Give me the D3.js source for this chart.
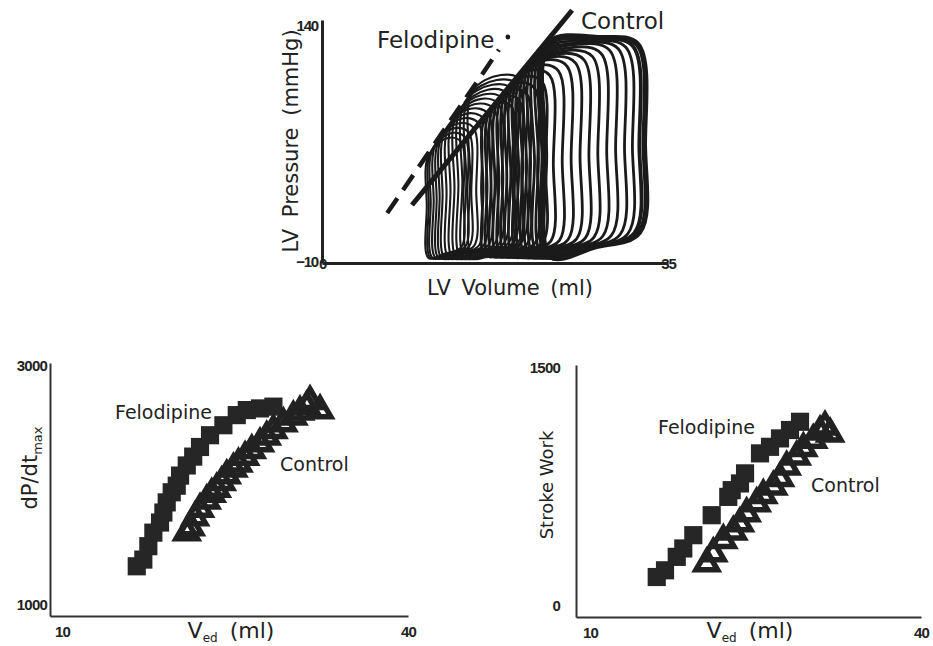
<!DOCTYPE html>
<html>
<head>
<meta charset="utf-8">
<script src="https://cdn.jsdelivr.net/npm/d3@7"></script>
<style>
  html, body { margin: 0; padding: 0; background: #fff; }
  svg { display: block; }
  .lbl { font-family: "DejaVu Sans", sans-serif; fill: #222; }
  .tick-lbl { font-family: "Liberation Sans", Arial, sans-serif; font-weight: bold; fill: #222; }
</style>
</head>
<body>
<svg id="chart" width="933" height="646"></svg>
<script>
// ---------- Pressure–volume loops (top panel) ----------
const pvVolumeTicks = [0, 35];
const pvPressureTicks = [-10, 140];

// Control loops during preload reduction: end-systolic / end-diastolic volume (ml),
// end-systolic pressure, peak pressure, end-diastolic pressure (mmHg)
const controlESV  = [22.6, 22.3, 21.9, 21.5, 21.1, 20.7, 20.3, 19.9, 19.5, 19.1, 18.7, 18.3, 17.9, 17.5, 17.1, 16.7, 16.3];
const controlEDV  = [32.6, 32.1, 31.4, 30.6, 29.7, 28.8, 27.9, 27.0, 26.1, 25.2, 24.3, 23.4, 22.6, 21.8, 21.0, 20.2, 19.4];
const controlPes  = [126, 124, 121, 118, 115, 112, 109, 106, 103, 100, 97, 94, 91, 88, 85, 82, 79];
const controlPeak = [129, 128, 127, 126, 125, 123, 121, 119, 117, 115, 112, 109, 105, 101, 97, 93, 89];
const controlEDP  = [9, 8.5, 8, 7.5, 7, 6.5, 6, 5.5, 5, 4.5, 4, 3.5, 3, 2.5, 2, 1.5, 1];

// Felodipine loops
const feloESV  = [15.0, 14.6, 14.2, 13.8, 13.4, 13.0, 12.6, 12.2, 11.9, 11.6, 11.3, 11.0, 10.8, 10.6];
const feloEDV  = [20.6, 20.2, 19.7, 19.2, 18.7, 18.2, 17.7, 17.1, 16.6, 16.1, 15.6, 15.1, 14.7, 14.3];
const feloPes  = [96, 92, 89, 85, 82, 78, 74, 71, 68, 65, 63, 60, 58, 56];
const feloPeak = [106, 103, 100, 97, 94, 91, 88, 85, 82, 79, 76, 73, 70, 67];
const feloEDP  = [4, 3.6, 3.2, 2.8, 2.4, 2, 1.6, 1.2, 1, 0.8, 0.6, 0.4, 0.2, 0];

// End-systolic pressure–volume relations
const espvrControlV = [9.1, 25.3];
const espvrControlP = [25.8, 146];
const espvrFeloV = [6.6, 17.9];
const espvrFeloP = [20.8, 121.7];
const espvrFeloDot = [18.8, 129.5];

// ---------- dP/dt max vs Ved (bottom left) ----------
const vedTicks = [10, 40];
const dpdtTicks = [1000, 3000];
const dpdtFeloV = [17.27, 17.82, 18.24, 18.66, 19.22, 19.50, 19.78, 20.20, 20.62, 20.90, 21.46, 22.00, 22.57, 23.41, 24.53, 25.65, 26.49, 27.60, 28.72];
const dpdtFeloY = [1393, 1446, 1552, 1659, 1739, 1818, 1898, 1978, 2030, 2110, 2190, 2260, 2336, 2429, 2508, 2588, 2628, 2641, 2655];
const dpdtCtrlV = [21.46, 21.80, 22.15, 22.57, 23.13, 23.55, 23.97, 24.39, 24.81, 25.37, 25.79, 26.35, 26.91, 27.60, 28.16, 28.72, 29.56, 30.39, 30.95, 31.52, 31.79, 32.63];
const dpdtCtrlY = [1659, 1700, 1778, 1845, 1911, 1964, 2004, 2057, 2110, 2163, 2203, 2256, 2309, 2363, 2416, 2469, 2522, 2575, 2615, 2655, 2697, 2625];

// ---------- Stroke work vs Ved (bottom right) ----------
const swTicks = [0, 1500];
const swFeloV = [17.02, 17.74, 18.76, 19.33, 20.20, 21.80, 23.24, 23.54, 24.26, 24.70, 26.00, 26.87, 27.74, 28.61, 29.48];
const swFeloY = [238, 278, 358, 408, 487, 606, 715, 755, 795, 855, 974, 1013, 1063, 1113, 1162];
const swCtrlV = [21.37, 21.94, 22.81, 23.68, 24.26, 24.84, 25.71, 26.29, 27.16, 27.74, 28.32, 29.19, 29.77, 30.63, 31.22, 31.65, 32.10];
const swCtrlY = [318, 378, 457, 507, 557, 616, 676, 725, 775, 825, 894, 954, 1004, 1053, 1103, 1132, 1090];

const svg = d3.select("#chart");
const ink = "#222";

// ================= Top panel =================
const xPV = d3.scaleLinear().domain([0, 35]).range([322, 668]);
const yPV = d3.scaleLinear().domain([-10, 140]).range([263, 20]);
const pvPanel = svg.append("g");

// one loop outline from its corner values
function loopPoints(esv, edv, pes, peak, edp, pmin) {
  const sv = edv - esv;
  return [
    [esv + 0.05 * sv, pmin],
    [esv + 0.5 * sv, pmin + 0.4 * (edp - pmin)],
    [edv - 0.05 * sv, edp],
    [edv, edp + 0.45 * (peak - edp)],
    [edv - 0.07 * sv, peak * 0.97],
    [esv + 0.55 * sv, peak],
    [esv + 0.04 * sv, pes],
    [esv, pes * 0.45],
  ];
}
const loopLine = d3.line()
  .x(d => xPV(d[0])).y(d => yPV(d[1]))
  .curve(d3.curveCatmullRomClosed.alpha(0.5));

const loops = pvPanel.append("g").attr("fill", "none").attr("stroke", "#1a1a1a").attr("stroke-linejoin", "round");
feloESV.forEach((v, i) => {
  loops.append("path")
    .attr("d", loopLine(loopPoints(v, feloEDV[i], feloPes[i], feloPeak[i], feloEDP[i], -7)))
    .attr("stroke-width", 2.1);
});
controlESV.forEach((v, i) => {
  loops.append("path")
    .attr("d", loopLine(loopPoints(v, controlEDV[i], controlPes[i], controlPeak[i], controlEDP[i], -6)))
    .attr("stroke-width", i === 0 ? 5.5 : (i === 1 ? 3.8 : 2.8));
});

// ESPVR lines
pvPanel.append("line")
  .attr("x1", xPV(espvrControlV[0])).attr("y1", yPV(espvrControlP[0]))
  .attr("x2", xPV(espvrControlV[1])).attr("y2", yPV(espvrControlP[1]))
  .attr("stroke", "#1a1a1a").attr("stroke-width", 5);
pvPanel.append("line")
  .attr("x1", xPV(espvrFeloV[0])).attr("y1", yPV(espvrFeloP[0]))
  .attr("x2", xPV(espvrFeloV[1])).attr("y2", yPV(espvrFeloP[1]))
  .attr("stroke", "#1a1a1a").attr("stroke-width", 4.5).attr("stroke-dasharray", "18,10");
pvPanel.append("circle")
  .attr("cx", xPV(espvrFeloDot[0])).attr("cy", yPV(espvrFeloDot[1])).attr("r", 2.4)
  .attr("fill", "#1a1a1a");

// axes
const pvXAxis = pvPanel.append("g").attr("transform", `translate(0,${yPV(-10)})`)
  .call(d3.axisBottom(xPV).tickValues(pvVolumeTicks).tickSize(0).tickPadding(3).tickFormat(d3.format("d")));
const pvYAxis = pvPanel.append("g").attr("transform", `translate(${xPV(0)},0)`)
  .call(d3.axisLeft(yPV).tickValues(pvPressureTicks).tickSize(0).tickPadding(4).tickFormat(d3.format("d")));
[pvXAxis, pvYAxis].forEach(a => {
  a.select(".domain").attr("stroke", ink).attr("stroke-width", 3);
  a.selectAll("text").attr("class", "tick-lbl").attr("font-size", 15).attr("letter-spacing", -1.2);
});
pvYAxis.selectAll(".tick text").filter(d => d === 140).attr("dy", "0.7em");
pvYAxis.selectAll(".tick text").filter(d => d === -10).attr("dy", "0.2em");
pvXAxis.selectAll(".tick text").attr("dy", "0.2em");

pvPanel.append("text").attr("class", "lbl").attr("font-size", 21).attr("word-spacing", 5)
  .attr("text-anchor", "middle").attr("transform", `translate(298,141) rotate(-90)`)
  .text("LV Pressure (mmHg)");
pvPanel.append("text").attr("class", "lbl").attr("font-size", 21).attr("word-spacing", 4)
  .attr("text-anchor", "middle").attr("x", 510).attr("y", 295)
  .text("LV Volume (ml)");
pvPanel.append("text").attr("class", "lbl").attr("font-size", 23).attr("x", 377).attr("y", 48).text("Felodipine");
pvPanel.append("text").attr("class", "lbl").attr("font-size", 23).attr("x", 581).attr("y", 29).text("Control");

// ================= Bottom panels =================
function vedTitle(g, cx, y) {
  const t = g.append("text").attr("class", "lbl").attr("text-anchor", "middle").attr("x", cx).attr("y", y).attr("font-size", 22);
  t.append("tspan").text("V");
  t.append("tspan").attr("font-size", 12).attr("dy", 4).text("ed");
  t.append("tspan").attr("dy", -4).attr("dx", 12).text("(ml)");
}

function scatterPanel(opts) {
  const g = svg.append("g");
  const x = d3.scaleLinear().domain([10, 40]).range(opts.xr);
  const y = d3.scaleLinear().domain(opts.yd).range(opts.yr);

  const xa = g.append("g").attr("transform", `translate(0,${opts.yr[0]})`)
    .call(d3.axisBottom(x).tickValues(vedTicks).tickSize(0).tickPadding(10).tickFormat(d3.format("d")));
  const ya = g.append("g").attr("transform", `translate(${opts.xr[0]},0)`)
    .call(d3.axisLeft(y).tickValues(opts.yTicks).tickSize(0).tickPadding(opts.yPad).tickFormat(d3.format("d")));
  [xa, ya].forEach(a => {
    a.select(".domain").attr("stroke", "#333").attr("stroke-width", 2);
    a.selectAll("text").attr("class", "tick-lbl").attr("font-size", 15).attr("letter-spacing", -0.8);
  });
  xa.selectAll(".tick text").filter(d => d === 10).attr("dx", opts.x10dx);
  ya.selectAll(".tick text").filter(d => d === opts.yTicks[0]).attr("dy", "-0.45em");
  ya.selectAll(".tick text").filter(d => d === opts.yTicks[1]).attr("dy", "0.5em");

  // felodipine: filled squares
  g.append("g").selectAll("path").data(opts.feloV)
    .join("path")
    .attr("transform", (d, i) => `translate(${x(d)},${y(opts.feloY[i])})`)
    .attr("d", d3.symbol(d3.symbolSquare, 330)())
    .attr("fill", "#262626");

  // control: open heavy triangles
  g.append("g").selectAll("path").data(opts.ctrlV)
    .join("path")
    .attr("transform", (d, i) => `translate(${x(d)},${y(opts.ctrlY[i])})`)
    .attr("d", d3.symbol(d3.symbolTriangle, 200)())
    .attr("fill", "none").attr("stroke", "#222").attr("stroke-width", 5.5).attr("stroke-linejoin", "miter");

  return { g, x, y };
}

const dpdtPanel = scatterPanel({
  xr: [50, 408], yd: [1000, 3000], yr: [616, 363], yTicks: dpdtTicks, yPad: 3, x10dx: 12,
  feloV: dpdtFeloV, feloY: dpdtFeloY, ctrlV: dpdtCtrlV, ctrlY: dpdtCtrlY
});
dpdtPanel.g.append("text").attr("class", "lbl").attr("font-size", 19).attr("x", 115).attr("y", 419).text("Felodipine");
dpdtPanel.g.append("text").attr("class", "lbl").attr("font-size", 19).attr("x", 280).attr("y", 471).text("Control");
vedTitle(dpdtPanel.g, 231, 638);
const dt = dpdtPanel.g.append("text").attr("class", "lbl").attr("font-size", 21)
  .attr("text-anchor", "middle").attr("transform", "translate(37,468) rotate(-90)");
dt.append("tspan").text("dP/dt");
dt.append("tspan").attr("font-size", 13).attr("dy", 5).text("max");

const swPanel = scatterPanel({
  xr: [576, 921], yd: [0, 1500], yr: [617, 365], yTicks: swTicks, yPad: 16, x10dx: 14,
  feloV: swFeloV, feloY: swFeloY, ctrlV: swCtrlV, ctrlY: swCtrlY
});
swPanel.g.append("text").attr("class", "lbl").attr("font-size", 19).attr("x", 658).attr("y", 434).text("Felodipine");
swPanel.g.append("text").attr("class", "lbl").attr("font-size", 19).attr("x", 811).attr("y", 492).text("Control");
vedTitle(swPanel.g, 750, 638);
swPanel.g.append("text").attr("class", "lbl").attr("font-size", 18)
  .attr("text-anchor", "middle").attr("transform", "translate(553,485) rotate(-90)")
  .text("Stroke Work");
</script>
</body>
</html>
